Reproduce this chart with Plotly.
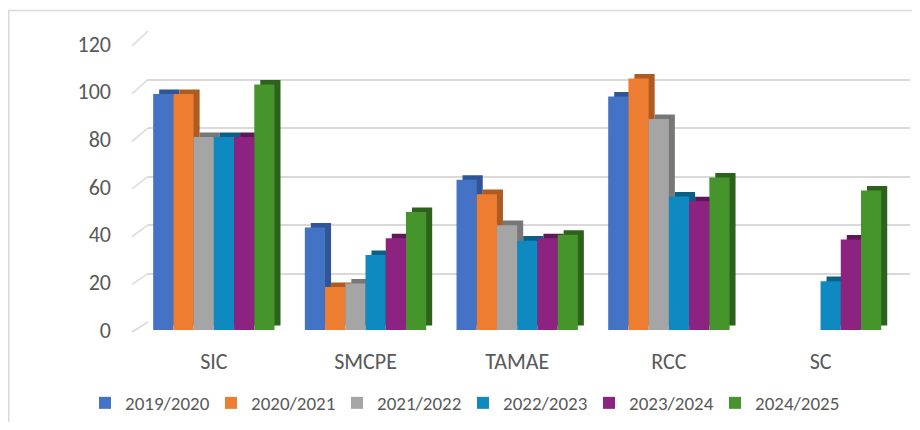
import plotly.graph_objects as go

# ── Datos ─────────────────────────────────────────────────────────────────────

CATEGORIAS = ["SIC", "SMCPE", "TAMAE", "RCC", "SC"]
PERIODOS = ["2019/2020", "2020/2021", "2021/2022", "2022/2023", "2023/2024", "2024/2025"]

V_2019 = [99, 43, 63, 98, None]
V_2020 = [99, 18, 57, 105.5, None]
V_2021 = [81, 19.5, 44, 88.5, None]
V_2022 = [81, 31.5, 37.5, 56, 20.5]
V_2023 = [81, 38.5, 38.5, 54, 38]
V_2024 = [103, 49.5, 40, 64, 58.5]

Y_TICKS = [0, 20, 40, 60, 80, 100, 120]

# ── Estilo ────────────────────────────────────────────────────────────────────

FRENTE = ["#4472C4", "#ED7D31", "#A5A5A5", "#0F8AC0", "#8C2381", "#45952C"]
LADO   = ["#2F5597", "#AE5A21", "#777777", "#0B5F84", "#5F1857", "#2C621C"]
TEXTO  = "#595959"
GRID   = "#D9D9D9"
FONT   = "Carlito, Calibri, Lato, sans-serif"

# La página añade 8 px de margen al body: la figura se dibuja 8 px más abajo
# y a la derecha, así que todo se expresa en píxeles de la ventana y se resta.
OFF = 8
W, H = 920 - 2 * OFF, 430 - 2 * OFF
L, R, T, B = 138, 910, 31, 330          # área "paper" en píxeles de ventana
PW, PH = R - L, B - T


def px_x(x):
    return (x - L) / PW


def px_y(y):
    return (B - y) / PH


ANCHO = 0.8 / 6          # ancho de cada barra (unidades de categoría)
PROF_X = 0.0395          # desplazamiento lateral de la cara 3D
PROF_Y = 1.9             # desplazamiento vertical de la cara 3D (unidades y)

series = [V_2019, V_2020, V_2021, V_2022, V_2023, V_2024]

fig = go.Figure()

# pared del fondo: solo la rejilla
fig.add_trace(go.Scatter(
    x=[0], y=[0], xaxis="x", yaxis="y", mode="markers",
    marker=dict(opacity=0), showlegend=False, hoverinfo="skip",
))

# caras laterales / superiores (sombra 3D), primero
for i, vals in enumerate(series):
    fig.add_trace(go.Bar(
        x=CATEGORIAS, y=vals, base=PROF_Y,
        xaxis="x2", yaxis="y2",
        offset=-0.4 + i * ANCHO + PROF_X, width=ANCHO,
        marker=dict(color=LADO[i], line=dict(width=0)),
        showlegend=False, hoverinfo="skip",
    ))

# caras frontales
for i, vals in enumerate(series):
    fig.add_trace(go.Bar(
        x=CATEGORIAS, y=vals, name=PERIODOS[i],
        xaxis="x2", yaxis="y2",
        offset=-0.4 + i * ANCHO, width=ANCHO,
        marker=dict(color=FRENTE[i], line=dict(width=0)),
        hovertemplate=f"<b>{PERIODOS[i]}</b><br>%{{x}}: %{{y}}<extra></extra>",
    ))

# diagonales del suelo / pared a la izquierda
shapes = []
for v in Y_TICKS:
    y_front = 332 - v * 2.383
    y_back = 322 - v * 2.425
    shapes.append(dict(
        type="line", xref="paper", yref="paper",
        x0=px_x(132), y0=px_y(y_front), x1=px_x(148), y1=px_y(y_back),
        line=dict(color=GRID, width=1.5),
    ))

# marco del gráfico
shapes.append(dict(
    type="rect", xref="paper", yref="paper",
    x0=px_x(8.8), y0=px_y(445), x1=px_x(935), y1=px_y(10.5),
    line=dict(color=GRID, width=1.5), fillcolor="rgba(0,0,0,0)", layer="below",
))

fig.update_layout(
    width=W, height=H,
    barmode="overlay",
    paper_bgcolor="white",
    plot_bgcolor="rgba(0,0,0,0)",
    margin=dict(l=L - OFF, r=W - (R - OFF), t=T - OFF, b=H - (B - OFF),
                autoexpand=False),
    font=dict(family=FONT, color=TEXTO),
    xaxis=dict(
        domain=[px_x(148), 1], anchor="y", range=[-1, 1],
        visible=False, fixedrange=True,
    ),
    yaxis=dict(
        domain=[px_y(322), 1], anchor="x", range=[0, 120],
        tickvals=Y_TICKS, showticklabels=False,
        showgrid=True, gridcolor=GRID, gridwidth=1.5,
        zeroline=False, showline=False, fixedrange=True,
    ),
    xaxis2=dict(
        domain=[0, px_x(896.4)], anchor="y2",
        categoryorder="array", categoryarray=CATEGORIAS,
        range=[-0.5, 4.5],
        showgrid=False, zeroline=False, showline=False, ticks="",
        tickfont=dict(size=22, color=TEXTO, family=FONT),
        ticklabelstandoff=16,
    ),
    yaxis2=dict(
        domain=[0, px_y(44)], anchor="x2", range=[0, 120],
        tickvals=Y_TICKS, showgrid=False, zeroline=False, showline=False,
        tickfont=dict(size=22, color=TEXTO, family=FONT),
        ticklabelstandoff=26,
    ),
    legend=dict(
        orientation="h", x=px_x(85), y=px_y(403),
        xanchor="left", yanchor="middle",
        font=dict(size=19, color=TEXTO, family=FONT),
        itemwidth=30, entrywidth=81, traceorder="normal",
        bgcolor="rgba(0,0,0,0)",
    ),
    shapes=shapes,
    showlegend=True,
)

fig.write_html("out.html")
